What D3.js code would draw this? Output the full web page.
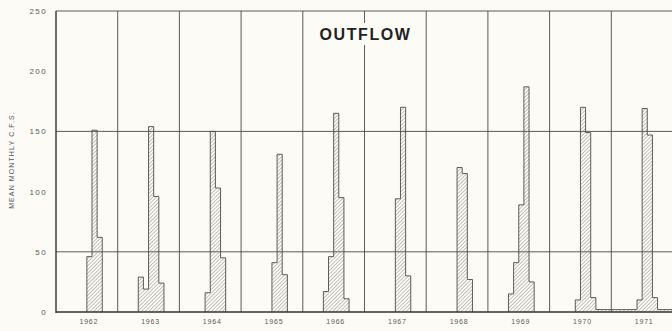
<!DOCTYPE html>
<html>
<head>
<meta charset="utf-8">
<script src="https://cdn.jsdelivr.net/npm/d3@7"></script>
<style>
  html, body { margin: 0; padding: 0; background: #fcfbf6; }
  svg { display: block; }
  text { font-family: "Liberation Sans", Arial, sans-serif; }
</style>
</head>
<body>
<svg id="chart" width="672" height="331"></svg>
<script>
// Water years shown, each split into twelve months (Oct .. Sep)
const years = ["1962", "1963", "1964", "1965", "1966", "1967", "1968", "1969", "1970", "1971"];
const months = ["OCT", "NOV", "DEC", "JAN", "FEB", "MAR", "APR", "MAY", "JUN", "JUL", "AUG", "SEP"];

// Mean monthly outflow, c.f.s., one array per water year
const flow1962 = [0, 0, 0, 0, 0, 0, 46, 151, 62, 0, 0, 0];
const flow1963 = [0, 0, 0, 0, 29, 19, 154, 96, 24, 0, 0, 0];
const flow1964 = [0, 0, 0, 0, 0, 16, 150, 103, 45, 0, 0, 0];
const flow1965 = [0, 0, 0, 0, 0, 0, 41, 131, 31, 0, 0, 0];
const flow1966 = [0, 0, 0, 0, 17, 46, 165, 95, 11, 0, 0, 0];
const flow1967 = [0, 0, 0, 0, 0, 0, 94, 170, 30, 0, 0, 0];
const flow1968 = [0, 0, 0, 0, 0, 0, 120, 115, 27, 0, 0, 0];
const flow1969 = [0, 0, 0, 0, 15, 41, 89, 187, 25, 0, 0, 0];
const flow1970 = [0, 0, 0, 0, 0, 10, 170, 149, 12, 2, 2, 2];
const flow1971 = [2, 2, 2, 2, 2, 10, 169, 147, 12, 2, 2, 2];
const flows = [flow1962, flow1963, flow1964, flow1965, flow1966,
               flow1967, flow1968, flow1969, flow1970, flow1971];

const yTicks = [0, 50, 100, 150, 200, 250];
const yGrid = [50, 150, 250];
const title = "OUTFLOW";
const yTitle = "MEAN MONTHLY C.F.S.";

const svg = d3.select("#chart");
const plotLeft = 56, plotRight = 673, plotTop = 11, plotBottom = 312;

const nMonths = years.length * months.length;
const x = d3.scaleLinear().domain([0, nMonths]).range([plotLeft, plotRight]);
const y = d3.scaleLinear().domain([0, 250]).range([plotBottom, plotTop]);
const xYear = d3.scaleBand().domain(years).range([plotLeft, plotRight]);

// diagonal hatch used to fill the monthly bars
const defs = svg.append("defs");
const hatch = defs.append("pattern")
  .attr("id", "hatch")
  .attr("patternUnits", "userSpaceOnUse")
  .attr("width", 2.6).attr("height", 2.6)
  .attr("patternTransform", "rotate(45)");
hatch.append("line")
  .attr("x1", 0).attr("y1", 0).attr("x2", 0).attr("y2", 2.6)
  .attr("stroke", "#7f7c72").attr("stroke-width", 0.9);

svg.append("rect").attr("width", 672).attr("height", 331).attr("fill", "#fcfbf6");

// horizontal grid lines
svg.append("g").selectAll("line").data(yGrid).join("line")
  .attr("x1", plotLeft).attr("x2", plotRight)
  .attr("y1", d => y(d)).attr("y2", d => y(d))
  .attr("stroke", "#4a4a46").attr("stroke-width", 0.9);

// water-year dividers
svg.append("g").selectAll("line").data(d3.range(1, years.length + 1)).join("line")
  .attr("x1", d => x(d * 12)).attr("x2", d => x(d * 12))
  .attr("y1", y(250)).attr("y2", y(0))
  .attr("stroke", "#4a4a46").attr("stroke-width", 0.9);

// monthly records flattened into one sequence
const records = [];
flows.forEach((arr, yi) => arr.forEach((v, mi) => {
  records.push({ year: years[yi], month: months[mi], idx: yi * 12 + mi, value: v });
}));

// hatched bars
svg.append("g").selectAll("rect").data(records.filter(d => d.value > 0)).join("rect")
  .attr("x", d => x(d.idx))
  .attr("width", d => x(d.idx + 1) - x(d.idx))
  .attr("y", d => y(d.value))
  .attr("height", d => y(0) - y(d.value))
  .attr("fill", "url(#hatch)");

// stepped outline around each run of non-zero months
const runs = [];
let cur = null;
records.forEach(d => {
  if (d.value > 0) {
    if (!cur) { cur = []; runs.push(cur); }
    cur.push(d);
  } else cur = null;
});
const step = d3.line().x(p => x(p[0])).y(p => y(p[1])).curve(d3.curveStepAfter);
svg.append("g").selectAll("path").data(runs).join("path")
  .attr("d", run => {
    const pts = [[run[0].idx, 0]];
    run.forEach(d => pts.push([d.idx, d.value]));
    const last = run[run.length - 1];
    pts.push([last.idx + 1, 0]);
    return step(pts);
  })
  .attr("fill", "none")
  .attr("stroke", "#4f4c45").attr("stroke-width", 0.9);

// frame: left axis and base line
svg.append("line")
  .attr("x1", plotLeft).attr("x2", plotLeft).attr("y1", y(250)).attr("y2", y(0) + 1)
  .attr("stroke", "#333330").attr("stroke-width", 1.4);
svg.append("line")
  .attr("x1", plotLeft).attr("x2", plotRight).attr("y1", y(0)).attr("y2", y(0))
  .attr("stroke", "#333330").attr("stroke-width", 1.4);

// y tick labels
const yAxis = svg.append("g")
  .attr("transform", `translate(${plotLeft},0)`)
  .call(d3.axisLeft(y).tickValues(yTicks).tickSize(0).tickPadding(9));
yAxis.select(".domain").remove();
yAxis.selectAll("text")
  .attr("fill", "#5a5a55")
  .style("font-size", "8px")
  .style("letter-spacing", "1.4px");

// year labels
const xAxis = svg.append("g")
  .attr("transform", `translate(2,${plotBottom})`)
  .call(d3.axisBottom(xYear).tickSize(0).tickPadding(7));
xAxis.select(".domain").remove();
xAxis.selectAll("text")
  .attr("fill", "#5a5a55")
  .style("font-size", "7px")
  .style("letter-spacing", "0.8px");

// y axis title
svg.append("text")
  .attr("transform", "translate(14,160) rotate(-90)")
  .attr("text-anchor", "middle")
  .attr("fill", "#5a5a55")
  .style("font-size", "7px")
  .style("letter-spacing", "1.1px")
  .text(yTitle);

// chart title on a clear patch
const tx = x(60) + 1, ty = 40;
svg.append("rect")
  .attr("x", tx - 44).attr("y", ty - 17).attr("width", 88).attr("height", 22)
  .attr("fill", "#fcfbf6");
svg.append("text")
  .attr("x", tx).attr("y", ty)
  .attr("text-anchor", "middle")
  .attr("fill", "#222220")
  .style("font-size", "16px")
  .style("font-weight", "bold")
  .style("letter-spacing", "1.6px")
  .text(title);
</script>
</body>
</html>
